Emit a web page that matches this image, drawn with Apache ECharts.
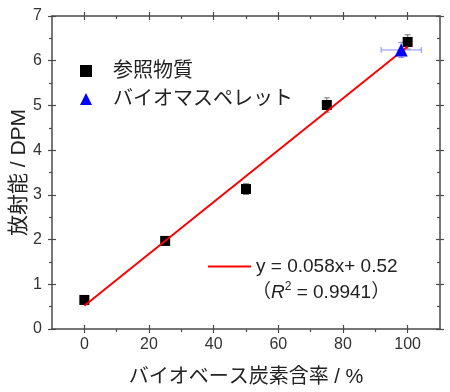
<!DOCTYPE html>
<html><head><meta charset="utf-8">
<script src="https://cdn.jsdelivr.net/npm/echarts@6/dist/echarts.min.js"></script>
<style>html,body{margin:0;padding:0;background:#fff}#c{width:450px;height:392px}</style>
</head><body><div id="c"></div>
<script>
const refX = [0, 25, 50, 75, 100];
const refY = [0.65, 1.97, 3.13, 5.01, 6.42];
const refErr = [0.06, 0.09, 0.12, 0.16, 0.16];
const bioX = [98];
const bioY = [6.24];
const bioErrX = [6.2];
const bioErrY = [0.17];
const fitSlope = 0.058, fitIntercept = 0.52;
const fitX = [0, 100];
const xMajor = [0, 20, 40, 60, 80, 100];
const xMinor = [10, 30, 50, 70, 90];
const seriesNames = ['参照物質', 'バイオマスペレット'];
const fitName = 'y = 0.058x+ 0.52';
const fitR2 = '0.9941';

const FONT = '"Liberation Sans", "Noto Sans CJK JP", sans-serif';
const AX = '#4a4a4a';
const chart = echarts.init(document.getElementById('c'));

function xAx(pos, inside, len, ticks, labels, line) {
  return {
    type: 'value', position: pos, min: -10, max: 110, splitLine: {show: false},
    axisLine: {show: line, onZero: false, lineStyle: {color: AX, width: 1.5}},
    axisTick: {show: true, inside: inside, length: len, customValues: ticks, lineStyle: {color: AX, width: 1.2}},
    axisLabel: labels ? {show: true, customValues: xMajor, fontSize: 16, color: '#333', fontFamily: FONT, margin: 8} : {show: false},
    name: labels ? 'バイオベース炭素含率 / %' : '', nameLocation: 'middle', nameGap: 38,
    nameMoveOverlap: false,
    nameTextStyle: {fontSize: 20, color: '#222', fontFamily: FONT}
  };
}
function yAx(pos, inside, len, minor, labels, line) {
  return {
    type: 'value', position: pos, min: 0, max: 7, interval: 1, splitLine: {show: false},
    axisLine: {show: line, onZero: false, lineStyle: {color: AX, width: 1.5}},
    axisTick: {show: true, inside: inside, length: len, lineStyle: {color: AX, width: 1.2}},
    minorTick: {show: minor, splitNumber: 2, length: 3, lineStyle: {color: AX, width: 1.2}},
    minorSplitLine: {show: false},
    axisLabel: labels ? {show: true, fontSize: 16, color: '#333', fontFamily: FONT, margin: 10} : {show: false},
    name: labels ? '放射能 / DPM' : '', nameLocation: 'middle', nameGap: 22, nameRotate: 90,
    nameMoveOverlap: false,
    nameTextStyle: {fontSize: 21, color: '#222', fontFamily: FONT}
  };
}

const refBars = refX.map((x, i) => [x, refY[i], refErr[i]]);
const bioBars = bioX.map((x, i) => [x, bioY[i], bioErrX[i], bioErrY[i]]);

chart.setOption({
  animation: false,
  backgroundColor: '#fff',
  grid: {left: 52, right: 10, top: 16, bottom: 63, containLabel: false, outerBoundsMode: 'none'},
  xAxis: [
    xAx('bottom', false, 4, xMajor, true, true),
    xAx('bottom', true, 4, xMajor, false, false),
    xAx('bottom', false, 3, xMinor, false, false),
    xAx('top', false, 4, xMajor, false, true),
    xAx('top', true, 4, xMajor, false, false),
    xAx('top', true, 3, xMinor, false, false)
  ],
  yAxis: [
    yAx('left', false, 4, true, true, true),
    yAx('left', true, 4, false, false, false),
    yAx('right', false, 4, false, false, true),
    yAx('right', true, 4, true, false, false)
  ],
  legend: [
    {
      data: seriesNames, orient: 'vertical', left: 75, top: 56, itemGap: 8,
      itemWidth: 12, itemHeight: 12,
      textStyle: {fontSize: 20, color: '#222', fontFamily: FONT, padding: [0, 0, 0, 16]}
    },
    {
      data: [{name: fitName, icon: 'rect'}], left: 203, top: 252, itemWidth: 43, itemHeight: 2,
      textStyle: {fontSize: 19, color: '#222', fontFamily: FONT}
    }
  ],
  graphic: [{
    type: 'text', left: 252, top: 281,
    style: {
      text: '{a|（}{i|R}{s|2}{a| = ' + fitR2 + '）}',
      rich: {
        a: {fontSize: 19, fill: '#222', fontFamily: FONT, lineHeight: 22, verticalAlign: 'bottom'},
        i: {fontSize: 19, fill: '#222', fontFamily: FONT, fontStyle: 'italic', lineHeight: 22, verticalAlign: 'bottom'},
        s: {fontSize: 12, fill: '#222', fontFamily: FONT, lineHeight: 12, verticalAlign: 'bottom', padding: [0, 0, 9, 0]}
      }
    }
  }],
  series: [
    {
      type: 'custom', name: 'refErr', silent: true, z: 2,
      renderItem: function (params, api) {
        const x = api.value(0), y = api.value(1), e = api.value(2);
        const t = api.coord([x, y + e]), b = api.coord([x, y - e]);
        const w = 3;
        const st = {stroke: '#777', lineWidth: 1};
        return {type: 'group', children: [
          {type: 'line', shape: {x1: t[0], y1: t[1], x2: b[0], y2: b[1]}, style: st},
          {type: 'line', shape: {x1: t[0] - w, y1: t[1], x2: t[0] + w, y2: t[1]}, style: st},
          {type: 'line', shape: {x1: b[0] - w, y1: b[1], x2: b[0] + w, y2: b[1]}, style: st}
        ]};
      },
      data: refBars
    },
    {
      type: 'custom', name: 'bioErr', silent: true, z: 2,
      renderItem: function (params, api) {
        const x = api.value(0), y = api.value(1), ex = api.value(2), ey = api.value(3);
        const l = api.coord([x - ex, y]), r = api.coord([x + ex, y]);
        const t = api.coord([x, y + ey]), b = api.coord([x, y - ey]);
        const w = 3;
        const st = {stroke: '#8a8aff', lineWidth: 1};
        return {type: 'group', children: [
          {type: 'line', shape: {x1: l[0], y1: l[1], x2: r[0], y2: r[1]}, style: st},
          {type: 'line', shape: {x1: l[0], y1: l[1] - w, x2: l[0], y2: l[1] + w}, style: st},
          {type: 'line', shape: {x1: r[0], y1: r[1] - w, x2: r[0], y2: r[1] + w}, style: st},
          {type: 'line', shape: {x1: t[0], y1: t[1], x2: b[0], y2: b[1]}, style: st},
          {type: 'line', shape: {x1: t[0] - w, y1: t[1], x2: t[0] + w, y2: t[1]}, style: st},
          {type: 'line', shape: {x1: b[0] - w, y1: b[1], x2: b[0] + w, y2: b[1]}, style: st}
        ]};
      },
      data: bioBars
    },
    {
      type: 'scatter', name: seriesNames[0], symbol: 'rect', symbolSize: 10, z: 3,
      itemStyle: {color: '#000', opacity: 1},
      data: refX.map((x, i) => [x, refY[i]])
    },
    {
      type: 'line', name: fitName, symbol: 'none', z: 4,
      lineStyle: {color: '#ff0000', width: 2}, itemStyle: {color: '#ff0000'},
      data: fitX.map(x => [x, fitSlope * x + fitIntercept])
    },
    {
      type: 'scatter', name: seriesNames[1], symbol: 'triangle', symbolSize: 13, z: 5,
      itemStyle: {color: '#0000ff', opacity: 1},
      data: bioX.map((x, i) => [x, bioY[i]])
    }
  ]
});
</script></body></html>
